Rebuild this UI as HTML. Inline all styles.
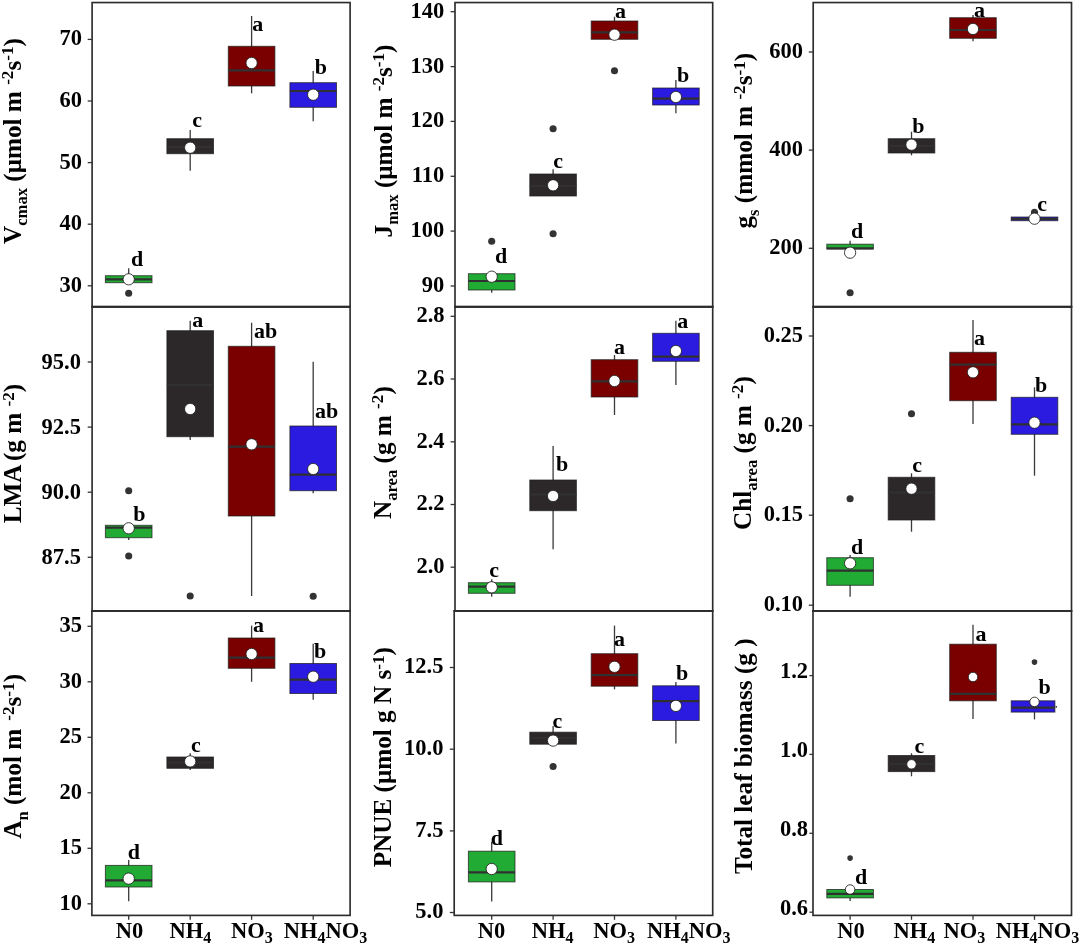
<!DOCTYPE html>
<html><head><meta charset="utf-8"><title>Box plots</title>
<style>html,body{margin:0;padding:0;background:#fff;}body{width:1080px;height:945px;overflow:hidden;font-family:"Liberation Serif",serif;}svg{display:block;filter:blur(0.45px);}</style></head>
<body>
<svg width="1080" height="945" viewBox="0 0 1080 945" font-family="Liberation Serif, serif" font-weight="bold" fill="#000">
<rect width="1080" height="945" fill="#fff"/>
<g>
<line x1="128.7" x2="128.7" y1="268.3" y2="282.7" stroke="#3a3a3a" stroke-width="1.3"/>
<circle cx="128.7" cy="293.3" r="3.55" fill="#333"/>
<rect x="105.4" y="275.7" width="46.6" height="7.0" fill="#21ab35" stroke="#1c1c1c" stroke-opacity="0.72" stroke-width="1"/>
<line x1="105.4" x2="152.0" y1="279.3" y2="279.3" stroke="#303030" stroke-width="2.2"/>
<circle cx="128.7" cy="279.3" r="5.65" fill="#fff" stroke="#1e1e1e" stroke-width="0.85"/>
<text x="131.0" y="266.0" font-size="22">d</text>
<line x1="190.2" x2="190.2" y1="130.0" y2="170.7" stroke="#3a3a3a" stroke-width="1.3"/>
<rect x="166.9" y="138.7" width="46.6" height="15.0" fill="#2c2829" stroke="#1c1c1c" stroke-opacity="0.72" stroke-width="1"/>
<line x1="166.9" x2="213.5" y1="147.0" y2="147.0" stroke="#303030" stroke-width="2.2"/>
<circle cx="190.2" cy="147.7" r="5.65" fill="#fff" stroke="#1e1e1e" stroke-width="0.85"/>
<text x="192.3" y="127.3" font-size="22">c</text>
<line x1="251.6" x2="251.6" y1="16.0" y2="93.3" stroke="#3a3a3a" stroke-width="1.3"/>
<rect x="228.3" y="46.3" width="46.6" height="39.7" fill="#7a0000" stroke="#1c1c1c" stroke-opacity="0.72" stroke-width="1"/>
<line x1="228.3" x2="274.9" y1="70.3" y2="70.3" stroke="#303030" stroke-width="2.2"/>
<circle cx="251.6" cy="63.0" r="5.65" fill="#fff" stroke="#1e1e1e" stroke-width="0.85"/>
<text x="252.3" y="31.0" font-size="22">a</text>
<line x1="313.2" x2="313.2" y1="71.0" y2="121.3" stroke="#3a3a3a" stroke-width="1.3"/>
<rect x="289.9" y="82.7" width="46.6" height="24.6" fill="#2b1be0" stroke="#1c1c1c" stroke-opacity="0.72" stroke-width="1"/>
<line x1="289.9" x2="336.5" y1="91.0" y2="91.0" stroke="#303030" stroke-width="2.2"/>
<circle cx="313.2" cy="94.7" r="5.65" fill="#fff" stroke="#1e1e1e" stroke-width="0.85"/>
<text x="314.7" y="74.0" font-size="22">b</text>
<rect x="92.1" y="2.55" width="258.0" height="304.2" fill="none" stroke="#2c2c2c" stroke-width="1.65"/>
<line x1="87.7" x2="92.1" y1="39.4" y2="39.4" stroke="#333333" stroke-width="1.3"/>
<text x="82.0" y="45.3" font-size="22.5" text-anchor="end">70</text>
<line x1="87.7" x2="92.1" y1="101.0" y2="101.0" stroke="#333333" stroke-width="1.3"/>
<text x="82.0" y="106.9" font-size="22.5" text-anchor="end">60</text>
<line x1="87.7" x2="92.1" y1="162.6" y2="162.6" stroke="#333333" stroke-width="1.3"/>
<text x="82.0" y="168.5" font-size="22.5" text-anchor="end">50</text>
<line x1="87.7" x2="92.1" y1="224.2" y2="224.2" stroke="#333333" stroke-width="1.3"/>
<text x="82.0" y="230.1" font-size="22.5" text-anchor="end">40</text>
<line x1="87.7" x2="92.1" y1="285.8" y2="285.8" stroke="#333333" stroke-width="1.3"/>
<text x="82.0" y="291.7" font-size="22.5" text-anchor="end">30</text>
<text transform="translate(20.6,244.0) rotate(-90)" font-size="25.2" xml:space="preserve">V<tspan dy="6.68" font-size="16.63">cmax</tspan><tspan dy="-6.68" font-size="16.63">&#8203;</tspan> (μmol m <tspan dy="-7.56" font-size="17.14">-2</tspan><tspan dy="7.56" font-size="17.14">&#8203;</tspan>s<tspan dy="-7.56" font-size="17.14">-1</tspan><tspan dy="7.56" font-size="17.14">&#8203;</tspan>)</text>
</g>
<g>
<line x1="491.7" x2="491.7" y1="273.7" y2="292.7" stroke="#3a3a3a" stroke-width="1.3"/>
<circle cx="491.7" cy="241.3" r="3.55" fill="#333"/>
<rect x="468.4" y="273.7" width="46.6" height="16.3" fill="#21ab35" stroke="#1c1c1c" stroke-opacity="0.72" stroke-width="1"/>
<line x1="468.4" x2="515.0" y1="281.0" y2="281.0" stroke="#303030" stroke-width="2.2"/>
<circle cx="491.7" cy="276.7" r="5.65" fill="#fff" stroke="#1e1e1e" stroke-width="0.85"/>
<text x="495.0" y="263.3" font-size="22">d</text>
<line x1="553.1" x2="553.1" y1="169.3" y2="196.0" stroke="#3a3a3a" stroke-width="1.3"/>
<circle cx="553.1" cy="128.7" r="3.55" fill="#333"/>
<circle cx="553.1" cy="233.7" r="3.55" fill="#333"/>
<rect x="529.8" y="174.0" width="46.6" height="22.0" fill="#2c2829" stroke="#1c1c1c" stroke-opacity="0.72" stroke-width="1"/>
<line x1="529.8" x2="576.4" y1="186.0" y2="186.0" stroke="#303030" stroke-width="2.2"/>
<circle cx="553.1" cy="185.3" r="5.65" fill="#fff" stroke="#1e1e1e" stroke-width="0.85"/>
<text x="553.3" y="168.3" font-size="22">c</text>
<line x1="614.5" x2="614.5" y1="16.7" y2="39.3" stroke="#3a3a3a" stroke-width="1.3"/>
<circle cx="614.5" cy="70.7" r="3.55" fill="#333"/>
<rect x="591.2" y="21.0" width="46.6" height="18.3" fill="#7a0000" stroke="#1c1c1c" stroke-opacity="0.72" stroke-width="1"/>
<line x1="591.2" x2="637.8" y1="32.3" y2="32.3" stroke="#303030" stroke-width="2.2"/>
<circle cx="614.5" cy="34.7" r="5.65" fill="#fff" stroke="#1e1e1e" stroke-width="0.85"/>
<text x="615.0" y="18.3" font-size="22">a</text>
<line x1="675.9" x2="675.9" y1="80.0" y2="113.3" stroke="#3a3a3a" stroke-width="1.3"/>
<rect x="652.6" y="88.0" width="46.6" height="17.0" fill="#2b1be0" stroke="#1c1c1c" stroke-opacity="0.72" stroke-width="1"/>
<line x1="652.6" x2="699.2" y1="98.7" y2="98.7" stroke="#303030" stroke-width="2.2"/>
<circle cx="675.9" cy="97.0" r="5.65" fill="#fff" stroke="#1e1e1e" stroke-width="0.85"/>
<text x="677.0" y="82.3" font-size="22">b</text>
<rect x="455.0" y="2.55" width="257.7" height="304.2" fill="none" stroke="#2c2c2c" stroke-width="1.65"/>
<line x1="450.6" x2="455.0" y1="11.7" y2="11.7" stroke="#333333" stroke-width="1.3"/>
<text x="444.2" y="17.6" font-size="22.5" text-anchor="end">140</text>
<line x1="450.6" x2="455.0" y1="66.6" y2="66.6" stroke="#333333" stroke-width="1.3"/>
<text x="444.2" y="72.5" font-size="22.5" text-anchor="end">130</text>
<line x1="450.6" x2="455.0" y1="121.4" y2="121.4" stroke="#333333" stroke-width="1.3"/>
<text x="444.2" y="127.3" font-size="22.5" text-anchor="end">120</text>
<line x1="450.6" x2="455.0" y1="176.3" y2="176.3" stroke="#333333" stroke-width="1.3"/>
<text x="444.2" y="182.2" font-size="22.5" text-anchor="end">110</text>
<line x1="450.6" x2="455.0" y1="231.1" y2="231.1" stroke="#333333" stroke-width="1.3"/>
<text x="444.2" y="237.0" font-size="22.5" text-anchor="end">100</text>
<line x1="450.6" x2="455.0" y1="286.0" y2="286.0" stroke="#333333" stroke-width="1.3"/>
<text x="444.2" y="291.9" font-size="22.5" text-anchor="end">90</text>
<text transform="translate(391.7,237.4) rotate(-90)" font-size="25.2" xml:space="preserve">J<tspan dy="6.68" font-size="16.63">max</tspan><tspan dy="-6.68" font-size="16.63">&#8203;</tspan> (μmol m <tspan dy="-7.56" font-size="17.14">-2</tspan><tspan dy="7.56" font-size="17.14">&#8203;</tspan>s<tspan dy="-7.56" font-size="17.14">-1</tspan><tspan dy="7.56" font-size="17.14">&#8203;</tspan>)</text>
</g>
<g>
<line x1="850.1" x2="850.1" y1="240.7" y2="248.7" stroke="#3a3a3a" stroke-width="1.3"/>
<circle cx="850.1" cy="292.7" r="3.55" fill="#333"/>
<rect x="826.8" y="244.2" width="46.6" height="4.7" fill="#21ab35" stroke="#1c1c1c" stroke-opacity="0.72" stroke-width="1"/>
<line x1="826.8" x2="873.4" y1="248.3" y2="248.3" stroke="#303030" stroke-width="2.2"/>
<circle cx="850.1" cy="252.7" r="5.65" fill="#fff" stroke="#1e1e1e" stroke-width="0.85"/>
<text x="851.0" y="238.3" font-size="22">d</text>
<line x1="911.5" x2="911.5" y1="131.7" y2="155.3" stroke="#3a3a3a" stroke-width="1.3"/>
<rect x="888.2" y="138.7" width="46.6" height="14.3" fill="#2c2829" stroke="#1c1c1c" stroke-opacity="0.72" stroke-width="1"/>
<line x1="888.2" x2="934.8" y1="146.0" y2="146.0" stroke="#303030" stroke-width="2.2"/>
<circle cx="911.5" cy="144.7" r="5.65" fill="#fff" stroke="#1e1e1e" stroke-width="0.85"/>
<text x="912.3" y="133.3" font-size="22">b</text>
<line x1="973.0" x2="973.0" y1="15.0" y2="41.3" stroke="#3a3a3a" stroke-width="1.3"/>
<rect x="949.7" y="17.7" width="46.6" height="20.6" fill="#7a0000" stroke="#1c1c1c" stroke-opacity="0.72" stroke-width="1"/>
<line x1="949.7" x2="996.3" y1="30.0" y2="30.0" stroke="#303030" stroke-width="2.2"/>
<circle cx="973.0" cy="29.0" r="5.65" fill="#fff" stroke="#1e1e1e" stroke-width="0.85"/>
<text x="974.0" y="16.7" font-size="22">a</text>
<line x1="1034.5" x2="1034.5" y1="217.0" y2="220.7" stroke="#3a3a3a" stroke-width="1.3"/>
<circle cx="1034.5" cy="212.4" r="3.55" fill="#333"/>
<rect x="1011.2" y="217.0" width="46.6" height="3.7" fill="#2b1be0" stroke="#1c1c1c" stroke-opacity="0.72" stroke-width="1"/>
<line x1="1011.2" x2="1057.8" y1="218.8" y2="218.8" stroke="#303030" stroke-width="2.2"/>
<circle cx="1034.5" cy="218.7" r="5.65" fill="#fff" stroke="#1e1e1e" stroke-width="0.85"/>
<text x="1037.3" y="210.7" font-size="22">c</text>
<rect x="813.2" y="2.55" width="258.3" height="304.2" fill="none" stroke="#2c2c2c" stroke-width="1.65"/>
<line x1="808.8" x2="813.2" y1="52.0" y2="52.0" stroke="#333333" stroke-width="1.3"/>
<text x="803.1" y="57.9" font-size="22.5" text-anchor="end">600</text>
<line x1="808.8" x2="813.2" y1="150.1" y2="150.1" stroke="#333333" stroke-width="1.3"/>
<text x="803.1" y="156.0" font-size="22.5" text-anchor="end">400</text>
<line x1="808.8" x2="813.2" y1="248.3" y2="248.3" stroke="#333333" stroke-width="1.3"/>
<text x="803.1" y="254.2" font-size="22.5" text-anchor="end">200</text>
<text transform="translate(752.3,228.5) rotate(-90)" font-size="25.2" xml:space="preserve">g<tspan dy="6.68" font-size="16.63">s</tspan><tspan dy="-6.68" font-size="16.63">&#8203;</tspan> (mmol m <tspan dy="-7.56" font-size="17.14">-2</tspan><tspan dy="7.56" font-size="17.14">&#8203;</tspan>s<tspan dy="-7.56" font-size="17.14">-1</tspan><tspan dy="7.56" font-size="17.14">&#8203;</tspan>)</text>
</g>
<g>
<line x1="128.7" x2="128.7" y1="523.3" y2="540.0" stroke="#3a3a3a" stroke-width="1.3"/>
<circle cx="128.7" cy="490.7" r="3.55" fill="#333"/>
<circle cx="128.7" cy="556.0" r="3.55" fill="#333"/>
<rect x="105.4" y="525.3" width="46.6" height="12.4" fill="#21ab35" stroke="#1c1c1c" stroke-opacity="0.72" stroke-width="1"/>
<line x1="105.4" x2="152.0" y1="527.7" y2="527.7" stroke="#303030" stroke-width="2.2"/>
<circle cx="128.7" cy="528.3" r="5.65" fill="#fff" stroke="#1e1e1e" stroke-width="0.85"/>
<text x="133.3" y="520.7" font-size="22">b</text>
<line x1="190.2" x2="190.2" y1="320.7" y2="440.0" stroke="#3a3a3a" stroke-width="1.3"/>
<circle cx="190.2" cy="596.0" r="3.55" fill="#333"/>
<rect x="166.9" y="330.7" width="46.6" height="106.0" fill="#2c2829" stroke="#1c1c1c" stroke-opacity="0.72" stroke-width="1"/>
<line x1="166.9" x2="213.5" y1="385.0" y2="385.0" stroke="#303030" stroke-width="2.2"/>
<circle cx="190.2" cy="409.0" r="5.65" fill="#fff" stroke="#1e1e1e" stroke-width="0.85"/>
<text x="192.3" y="327.3" font-size="22">a</text>
<line x1="251.6" x2="251.6" y1="322.7" y2="596.0" stroke="#3a3a3a" stroke-width="1.3"/>
<rect x="228.3" y="346.3" width="46.6" height="169.7" fill="#7a0000" stroke="#1c1c1c" stroke-opacity="0.72" stroke-width="1"/>
<line x1="228.3" x2="274.9" y1="446.7" y2="446.7" stroke="#303030" stroke-width="2.2"/>
<circle cx="251.6" cy="444.3" r="5.65" fill="#fff" stroke="#1e1e1e" stroke-width="0.85"/>
<text x="254.0" y="338.3" font-size="22">ab</text>
<line x1="313.2" x2="313.2" y1="361.7" y2="493.3" stroke="#3a3a3a" stroke-width="1.3"/>
<circle cx="313.2" cy="596.3" r="3.55" fill="#333"/>
<rect x="289.9" y="426.0" width="46.6" height="64.7" fill="#2b1be0" stroke="#1c1c1c" stroke-opacity="0.72" stroke-width="1"/>
<line x1="289.9" x2="336.5" y1="474.7" y2="474.7" stroke="#303030" stroke-width="2.2"/>
<circle cx="313.2" cy="469.0" r="5.65" fill="#fff" stroke="#1e1e1e" stroke-width="0.85"/>
<text x="315.0" y="418.3" font-size="22">ab</text>
<rect x="92.1" y="306.8" width="258.0" height="304.1" fill="none" stroke="#2c2c2c" stroke-width="1.65"/>
<line x1="91.4" x2="350.8" y1="306.8" y2="306.8" stroke="#2c2c2c" stroke-width="1.9"/>
<line x1="87.7" x2="92.1" y1="362.0" y2="362.0" stroke="#333333" stroke-width="1.3"/>
<text x="80.9" y="369.1" font-size="22.5" text-anchor="end">95.0</text>
<line x1="87.7" x2="92.1" y1="427.1" y2="427.1" stroke="#333333" stroke-width="1.3"/>
<text x="80.9" y="434.2" font-size="22.5" text-anchor="end">92.5</text>
<line x1="87.7" x2="92.1" y1="492.2" y2="492.2" stroke="#333333" stroke-width="1.3"/>
<text x="80.9" y="499.3" font-size="22.5" text-anchor="end">90.0</text>
<line x1="87.7" x2="92.1" y1="557.3" y2="557.3" stroke="#333333" stroke-width="1.3"/>
<text x="80.9" y="564.4" font-size="22.5" text-anchor="end">87.5</text>
<text transform="translate(21.4,523.3) rotate(-90)" font-size="25.2" xml:space="preserve">LMA<tspan dx="3.5">(</tspan>g m <tspan dy="-7.56" font-size="17.14">-2</tspan><tspan dy="7.56" font-size="17.14">&#8203;</tspan>)</text>
</g>
<g>
<line x1="491.7" x2="491.7" y1="579.3" y2="596.7" stroke="#3a3a3a" stroke-width="1.3"/>
<rect x="468.4" y="582.7" width="46.6" height="10.6" fill="#21ab35" stroke="#1c1c1c" stroke-opacity="0.72" stroke-width="1"/>
<line x1="468.4" x2="515.0" y1="586.7" y2="586.7" stroke="#303030" stroke-width="2.2"/>
<circle cx="491.7" cy="587.3" r="5.65" fill="#fff" stroke="#1e1e1e" stroke-width="0.85"/>
<text x="489.3" y="576.7" font-size="22">c</text>
<line x1="553.1" x2="553.1" y1="446.0" y2="549.3" stroke="#3a3a3a" stroke-width="1.3"/>
<rect x="529.8" y="480.0" width="46.6" height="30.7" fill="#2c2829" stroke="#1c1c1c" stroke-opacity="0.72" stroke-width="1"/>
<line x1="529.8" x2="576.4" y1="494.3" y2="494.3" stroke="#303030" stroke-width="2.2"/>
<circle cx="553.1" cy="496.0" r="5.65" fill="#fff" stroke="#1e1e1e" stroke-width="0.85"/>
<text x="556.0" y="471.0" font-size="22">b</text>
<line x1="614.5" x2="614.5" y1="355.0" y2="415.0" stroke="#3a3a3a" stroke-width="1.3"/>
<rect x="591.2" y="359.7" width="46.6" height="37.3" fill="#7a0000" stroke="#1c1c1c" stroke-opacity="0.72" stroke-width="1"/>
<line x1="591.2" x2="637.8" y1="381.3" y2="381.3" stroke="#303030" stroke-width="2.2"/>
<circle cx="614.5" cy="381.0" r="5.65" fill="#fff" stroke="#1e1e1e" stroke-width="0.85"/>
<text x="614.0" y="354.3" font-size="22">a</text>
<line x1="675.9" x2="675.9" y1="320.7" y2="385.0" stroke="#3a3a3a" stroke-width="1.3"/>
<rect x="652.6" y="333.3" width="46.6" height="28.0" fill="#2b1be0" stroke="#1c1c1c" stroke-opacity="0.72" stroke-width="1"/>
<line x1="652.6" x2="699.2" y1="356.7" y2="356.7" stroke="#303030" stroke-width="2.2"/>
<circle cx="675.9" cy="351.0" r="5.65" fill="#fff" stroke="#1e1e1e" stroke-width="0.85"/>
<text x="677.3" y="328.3" font-size="22">a</text>
<rect x="455.0" y="306.8" width="257.7" height="304.1" fill="none" stroke="#2c2c2c" stroke-width="1.65"/>
<line x1="454.3" x2="713.4" y1="306.8" y2="306.8" stroke="#2c2c2c" stroke-width="1.9"/>
<line x1="450.6" x2="455.0" y1="316.3" y2="316.3" stroke="#333333" stroke-width="1.3"/>
<text x="444.6" y="322.2" font-size="22.5" text-anchor="end">2.8</text>
<line x1="450.6" x2="455.0" y1="379.0" y2="379.0" stroke="#333333" stroke-width="1.3"/>
<text x="444.6" y="384.9" font-size="22.5" text-anchor="end">2.6</text>
<line x1="450.6" x2="455.0" y1="441.8" y2="441.8" stroke="#333333" stroke-width="1.3"/>
<text x="444.6" y="447.7" font-size="22.5" text-anchor="end">2.4</text>
<line x1="450.6" x2="455.0" y1="504.5" y2="504.5" stroke="#333333" stroke-width="1.3"/>
<text x="444.6" y="510.4" font-size="22.5" text-anchor="end">2.2</text>
<line x1="450.6" x2="455.0" y1="567.2" y2="567.2" stroke="#333333" stroke-width="1.3"/>
<text x="444.6" y="573.1" font-size="22.5" text-anchor="end">2.0</text>
<text transform="translate(390.5,519.0) rotate(-90)" font-size="25.2" xml:space="preserve">N<tspan dy="6.68" font-size="16.63">area</tspan><tspan dy="-6.68" font-size="16.63">&#8203;</tspan> (g m <tspan dy="-7.56" font-size="17.14">-2</tspan><tspan dy="7.56" font-size="17.14">&#8203;</tspan>)</text>
</g>
<g>
<line x1="850.1" x2="850.1" y1="555.0" y2="596.7" stroke="#3a3a3a" stroke-width="1.3"/>
<circle cx="850.1" cy="498.7" r="3.55" fill="#333"/>
<rect x="826.8" y="557.7" width="46.6" height="27.6" fill="#21ab35" stroke="#1c1c1c" stroke-opacity="0.72" stroke-width="1"/>
<line x1="826.8" x2="873.4" y1="570.7" y2="570.7" stroke="#303030" stroke-width="2.2"/>
<circle cx="850.1" cy="563.3" r="5.65" fill="#fff" stroke="#1e1e1e" stroke-width="0.85"/>
<text x="851.0" y="554.0" font-size="22">d</text>
<line x1="911.5" x2="911.5" y1="473.3" y2="531.7" stroke="#3a3a3a" stroke-width="1.3"/>
<circle cx="911.5" cy="413.7" r="3.55" fill="#333"/>
<rect x="888.2" y="477.3" width="46.6" height="42.7" fill="#2c2829" stroke="#1c1c1c" stroke-opacity="0.72" stroke-width="1"/>
<line x1="888.2" x2="934.8" y1="492.7" y2="492.7" stroke="#303030" stroke-width="2.2"/>
<circle cx="911.5" cy="488.7" r="5.65" fill="#fff" stroke="#1e1e1e" stroke-width="0.85"/>
<text x="912.3" y="472.3" font-size="22">c</text>
<line x1="973.0" x2="973.0" y1="320.0" y2="424.0" stroke="#3a3a3a" stroke-width="1.3"/>
<rect x="949.7" y="352.3" width="46.6" height="48.4" fill="#7a0000" stroke="#1c1c1c" stroke-opacity="0.72" stroke-width="1"/>
<line x1="949.7" x2="996.3" y1="364.7" y2="364.7" stroke="#303030" stroke-width="2.2"/>
<circle cx="973.0" cy="372.3" r="5.65" fill="#fff" stroke="#1e1e1e" stroke-width="0.85"/>
<text x="974.0" y="345.0" font-size="22">a</text>
<line x1="1034.5" x2="1034.5" y1="387.3" y2="475.7" stroke="#3a3a3a" stroke-width="1.3"/>
<rect x="1011.2" y="397.3" width="46.6" height="37.0" fill="#2b1be0" stroke="#1c1c1c" stroke-opacity="0.72" stroke-width="1"/>
<line x1="1011.2" x2="1057.8" y1="424.3" y2="424.3" stroke="#303030" stroke-width="2.2"/>
<circle cx="1034.5" cy="422.7" r="5.65" fill="#fff" stroke="#1e1e1e" stroke-width="0.85"/>
<text x="1035.0" y="391.7" font-size="22">b</text>
<rect x="813.2" y="306.8" width="258.3" height="304.1" fill="none" stroke="#2c2c2c" stroke-width="1.65"/>
<line x1="812.5" x2="1072.2" y1="306.8" y2="306.8" stroke="#2c2c2c" stroke-width="1.9"/>
<line x1="808.8" x2="813.2" y1="336.0" y2="336.0" stroke="#333333" stroke-width="1.3"/>
<text x="803.0" y="341.9" font-size="22.5" text-anchor="end">0.25</text>
<line x1="808.8" x2="813.2" y1="425.6" y2="425.6" stroke="#333333" stroke-width="1.3"/>
<text x="803.0" y="431.5" font-size="22.5" text-anchor="end">0.20</text>
<line x1="808.8" x2="813.2" y1="515.2" y2="515.2" stroke="#333333" stroke-width="1.3"/>
<text x="803.0" y="521.1" font-size="22.5" text-anchor="end">0.15</text>
<line x1="808.8" x2="813.2" y1="605.2" y2="605.2" stroke="#333333" stroke-width="1.3"/>
<text x="803.0" y="611.1" font-size="22.5" text-anchor="end">0.10</text>
<text transform="translate(750.5,530.0) rotate(-90)" font-size="25.2" xml:space="preserve">Chl<tspan dy="6.68" font-size="16.63">area</tspan><tspan dy="-6.68" font-size="16.63">&#8203;</tspan> (g m <tspan dy="-7.56" font-size="17.14">-2</tspan><tspan dy="7.56" font-size="17.14">&#8203;</tspan>)</text>
</g>
<g>
<line x1="128.7" x2="128.7" y1="860.0" y2="901.2" stroke="#3a3a3a" stroke-width="1.3"/>
<rect x="105.4" y="865.4" width="46.6" height="21.6" fill="#21ab35" stroke="#1c1c1c" stroke-opacity="0.72" stroke-width="1"/>
<line x1="105.4" x2="152.0" y1="880.4" y2="880.4" stroke="#303030" stroke-width="2.2"/>
<circle cx="128.7" cy="878.6" r="5.65" fill="#fff" stroke="#1e1e1e" stroke-width="0.85"/>
<text x="127.7" y="858.5" font-size="22">d</text>
<line x1="190.2" x2="190.2" y1="753.3" y2="770.0" stroke="#3a3a3a" stroke-width="1.3"/>
<rect x="166.9" y="757.0" width="46.6" height="11.3" fill="#2c2829" stroke="#1c1c1c" stroke-opacity="0.72" stroke-width="1"/>
<line x1="166.9" x2="213.5" y1="762.5" y2="762.5" stroke="#303030" stroke-width="2.2"/>
<circle cx="190.2" cy="761.4" r="5.65" fill="#fff" stroke="#1e1e1e" stroke-width="0.85"/>
<text x="191.0" y="751.5" font-size="22">c</text>
<line x1="251.6" x2="251.6" y1="625.6" y2="681.8" stroke="#3a3a3a" stroke-width="1.3"/>
<rect x="228.3" y="638.0" width="46.6" height="30.3" fill="#7a0000" stroke="#1c1c1c" stroke-opacity="0.72" stroke-width="1"/>
<line x1="228.3" x2="274.9" y1="657.7" y2="657.7" stroke="#303030" stroke-width="2.2"/>
<circle cx="251.6" cy="654.0" r="5.65" fill="#fff" stroke="#1e1e1e" stroke-width="0.85"/>
<text x="253.0" y="632.0" font-size="22">a</text>
<line x1="313.2" x2="313.2" y1="643.8" y2="699.7" stroke="#3a3a3a" stroke-width="1.3"/>
<rect x="289.9" y="663.5" width="46.6" height="30.0" fill="#2b1be0" stroke="#1c1c1c" stroke-opacity="0.72" stroke-width="1"/>
<line x1="289.9" x2="336.5" y1="679.6" y2="679.6" stroke="#303030" stroke-width="2.2"/>
<circle cx="313.2" cy="676.7" r="5.65" fill="#fff" stroke="#1e1e1e" stroke-width="0.85"/>
<text x="314.0" y="657.7" font-size="22">b</text>
<rect x="91.9" y="610.9" width="258.2" height="304.5" fill="none" stroke="#2c2c2c" stroke-width="1.65"/>
<line x1="91.2" x2="350.8" y1="610.9" y2="610.9" stroke="#2c2c2c" stroke-width="1.9"/>
<line x1="87.5" x2="91.9" y1="626.3" y2="626.3" stroke="#333333" stroke-width="1.3"/>
<text x="82.0" y="632.2" font-size="22.5" text-anchor="end">35</text>
<line x1="87.5" x2="91.9" y1="681.8" y2="681.8" stroke="#333333" stroke-width="1.3"/>
<text x="82.0" y="687.7" font-size="22.5" text-anchor="end">30</text>
<line x1="87.5" x2="91.9" y1="737.3" y2="737.3" stroke="#333333" stroke-width="1.3"/>
<text x="82.0" y="743.2" font-size="22.5" text-anchor="end">25</text>
<line x1="87.5" x2="91.9" y1="792.8" y2="792.8" stroke="#333333" stroke-width="1.3"/>
<text x="82.0" y="798.7" font-size="22.5" text-anchor="end">20</text>
<line x1="87.5" x2="91.9" y1="848.3" y2="848.3" stroke="#333333" stroke-width="1.3"/>
<text x="82.0" y="854.2" font-size="22.5" text-anchor="end">15</text>
<line x1="87.5" x2="91.9" y1="903.8" y2="903.8" stroke="#333333" stroke-width="1.3"/>
<text x="82.0" y="909.7" font-size="22.5" text-anchor="end">10</text>
<text transform="translate(21.4,838.8) rotate(-90)" font-size="25.2" xml:space="preserve">A<tspan dy="6.68" font-size="16.63">n</tspan><tspan dy="-6.68" font-size="16.63">&#8203;</tspan> (mol m<tspan dx="1.8"> </tspan><tspan dy="-7.56" font-size="17.14">-2</tspan><tspan dy="7.56" font-size="17.14">&#8203;</tspan>s<tspan dy="-7.56" font-size="17.14">-1</tspan><tspan dy="7.56" font-size="17.14">&#8203;</tspan>)</text>
<line x1="128.7" x2="128.7" y1="915.4" y2="919.8" stroke="#333333" stroke-width="1.3"/>
<text x="115.8" y="937.6" font-size="22.5">N0</text>
<line x1="190.2" x2="190.2" y1="915.4" y2="919.8" stroke="#333333" stroke-width="1.3"/>
<text x="169.4" y="937.6" font-size="22.5">NH<tspan dy="5.6" font-size="16">4</tspan><tspan dy="-5.6" font-size="16">&#8203;</tspan></text>
<line x1="251.6" x2="251.6" y1="915.4" y2="919.8" stroke="#333333" stroke-width="1.3"/>
<text x="231.1" y="937.6" font-size="22.5">NO<tspan dy="5.6" font-size="16">3</tspan><tspan dy="-5.6" font-size="16">&#8203;</tspan></text>
<line x1="313.2" x2="313.2" y1="915.4" y2="919.8" stroke="#333333" stroke-width="1.3"/>
<text x="283.8" y="937.6" font-size="22.5">NH<tspan dy="5.6" font-size="16">4</tspan><tspan dy="-5.6" font-size="16">&#8203;</tspan>NO<tspan dy="5.6" font-size="16">3</tspan><tspan dy="-5.6" font-size="16">&#8203;</tspan></text>
</g>
<g>
<line x1="491.7" x2="491.7" y1="841.7" y2="901.6" stroke="#3a3a3a" stroke-width="1.3"/>
<rect x="468.4" y="851.2" width="46.6" height="30.7" fill="#21ab35" stroke="#1c1c1c" stroke-opacity="0.72" stroke-width="1"/>
<line x1="468.4" x2="515.0" y1="872.4" y2="872.4" stroke="#303030" stroke-width="2.2"/>
<circle cx="491.7" cy="869.0" r="5.65" fill="#fff" stroke="#1e1e1e" stroke-width="0.85"/>
<text x="490.7" y="845.3" font-size="22">d</text>
<line x1="553.1" x2="553.1" y1="726.0" y2="744.2" stroke="#3a3a3a" stroke-width="1.3"/>
<circle cx="553.1" cy="766.5" r="3.55" fill="#333"/>
<rect x="529.8" y="732.2" width="46.6" height="12.0" fill="#2c2829" stroke="#1c1c1c" stroke-opacity="0.72" stroke-width="1"/>
<line x1="529.8" x2="576.4" y1="738.0" y2="738.0" stroke="#303030" stroke-width="2.2"/>
<circle cx="553.1" cy="740.6" r="5.65" fill="#fff" stroke="#1e1e1e" stroke-width="0.85"/>
<text x="552.4" y="727.8" font-size="22">c</text>
<line x1="614.5" x2="614.5" y1="625.6" y2="689.4" stroke="#3a3a3a" stroke-width="1.3"/>
<rect x="591.2" y="653.7" width="46.6" height="32.5" fill="#7a0000" stroke="#1c1c1c" stroke-opacity="0.72" stroke-width="1"/>
<line x1="591.2" x2="637.8" y1="675.2" y2="675.2" stroke="#303030" stroke-width="2.2"/>
<circle cx="614.5" cy="666.8" r="5.65" fill="#fff" stroke="#1e1e1e" stroke-width="0.85"/>
<text x="614.0" y="646.4" font-size="22">a</text>
<line x1="675.9" x2="675.9" y1="682.0" y2="743.5" stroke="#3a3a3a" stroke-width="1.3"/>
<rect x="652.6" y="685.8" width="46.6" height="34.7" fill="#2b1be0" stroke="#1c1c1c" stroke-opacity="0.72" stroke-width="1"/>
<line x1="652.6" x2="699.2" y1="701.1" y2="701.1" stroke="#303030" stroke-width="2.2"/>
<circle cx="675.9" cy="705.9" r="5.65" fill="#fff" stroke="#1e1e1e" stroke-width="0.85"/>
<text x="676.0" y="679.6" font-size="22">b</text>
<rect x="454.2" y="610.9" width="258.5" height="304.5" fill="none" stroke="#2c2c2c" stroke-width="1.65"/>
<line x1="453.5" x2="713.4" y1="610.9" y2="610.9" stroke="#2c2c2c" stroke-width="1.9"/>
<line x1="449.8" x2="454.2" y1="667.5" y2="667.5" stroke="#333333" stroke-width="1.3"/>
<text x="443.4" y="673.4" font-size="22.5" text-anchor="end">12.5</text>
<line x1="449.8" x2="454.2" y1="749.2" y2="749.2" stroke="#333333" stroke-width="1.3"/>
<text x="443.4" y="755.1" font-size="22.5" text-anchor="end">10.0</text>
<line x1="449.8" x2="454.2" y1="830.9" y2="830.9" stroke="#333333" stroke-width="1.3"/>
<text x="443.4" y="836.8" font-size="22.5" text-anchor="end">7.5</text>
<line x1="449.8" x2="454.2" y1="912.5" y2="912.5" stroke="#333333" stroke-width="1.3"/>
<text x="443.4" y="918.4" font-size="22.5" text-anchor="end">5.0</text>
<text transform="translate(391.3,867.3) rotate(-90)" font-size="25.2" xml:space="preserve">PNUE (μmol g N s<tspan dy="-7.56" font-size="17.14">-1</tspan><tspan dy="7.56" font-size="17.14">&#8203;</tspan>)</text>
<line x1="491.7" x2="491.7" y1="915.4" y2="919.8" stroke="#333333" stroke-width="1.3"/>
<text x="477.8" y="937.6" font-size="22.5">N0</text>
<line x1="553.1" x2="553.1" y1="915.4" y2="919.8" stroke="#333333" stroke-width="1.3"/>
<text x="531.7" y="937.6" font-size="22.5">NH<tspan dy="5.6" font-size="16">4</tspan><tspan dy="-5.6" font-size="16">&#8203;</tspan></text>
<line x1="614.5" x2="614.5" y1="915.4" y2="919.8" stroke="#333333" stroke-width="1.3"/>
<text x="593.2" y="937.6" font-size="22.5">NO<tspan dy="5.6" font-size="16">3</tspan><tspan dy="-5.6" font-size="16">&#8203;</tspan></text>
<line x1="675.9" x2="675.9" y1="915.4" y2="919.8" stroke="#333333" stroke-width="1.3"/>
<text x="646.9" y="937.6" font-size="22.5">NH<tspan dy="5.6" font-size="16">4</tspan><tspan dy="-5.6" font-size="16">&#8203;</tspan>NO<tspan dy="5.6" font-size="16">3</tspan><tspan dy="-5.6" font-size="16">&#8203;</tspan></text>
</g>
<g>
<line x1="850.1" x2="850.1" y1="889.5" y2="901.0" stroke="#3a3a3a" stroke-width="1.3"/>
<circle cx="850.1" cy="858.1" r="2.8" fill="#333"/>
<rect x="826.8" y="889.5" width="46.6" height="8.4" fill="#21ab35" stroke="#1c1c1c" stroke-opacity="0.72" stroke-width="1"/>
<line x1="826.8" x2="873.4" y1="893.9" y2="893.9" stroke="#303030" stroke-width="2.2"/>
<circle cx="850.1" cy="889.5" r="4.75" fill="#fff" stroke="#1e1e1e" stroke-width="0.85"/>
<text x="855.0" y="884.0" font-size="22">d</text>
<line x1="911.5" x2="911.5" y1="753.3" y2="776.3" stroke="#3a3a3a" stroke-width="1.3"/>
<rect x="888.2" y="755.5" width="46.6" height="16.1" fill="#2c2829" stroke="#1c1c1c" stroke-opacity="0.72" stroke-width="1"/>
<line x1="888.2" x2="934.8" y1="764.0" y2="764.0" stroke="#303030" stroke-width="2.2"/>
<circle cx="911.5" cy="764.3" r="4.75" fill="#fff" stroke="#1e1e1e" stroke-width="0.85"/>
<text x="914.6" y="753.3" font-size="22">c</text>
<line x1="973.0" x2="973.0" y1="624.8" y2="719.0" stroke="#3a3a3a" stroke-width="1.3"/>
<rect x="949.7" y="644.2" width="46.6" height="56.6" fill="#7a0000" stroke="#1c1c1c" stroke-opacity="0.72" stroke-width="1"/>
<line x1="949.7" x2="996.3" y1="693.8" y2="693.8" stroke="#303030" stroke-width="2.2"/>
<circle cx="973.0" cy="677.0" r="4.75" fill="#fff" stroke="#1e1e1e" stroke-width="0.85"/>
<text x="975.6" y="640.9" font-size="22">a</text>
<line x1="1034.5" x2="1034.5" y1="700.8" y2="719.4" stroke="#3a3a3a" stroke-width="1.3"/>
<circle cx="1034.5" cy="662.1" r="2.8" fill="#333"/>
<rect x="1011.2" y="700.8" width="43.7" height="11.3" fill="#2b1be0" stroke="#1c1c1c" stroke-opacity="0.72" stroke-width="1"/>
<line x1="1011.2" x2="1054.9" y1="707.7" y2="707.7" stroke="#303030" stroke-width="2.2"/>
<circle cx="1056.3" cy="706.8" r="0.9" fill="#333"/>
<circle cx="1034.5" cy="701.9" r="4.75" fill="#fff" stroke="#1e1e1e" stroke-width="0.85"/>
<text x="1038.4" y="693.8" font-size="22">b</text>
<rect x="813.0" y="610.9" width="258.5" height="304.5" fill="none" stroke="#2c2c2c" stroke-width="1.65"/>
<line x1="812.3" x2="1072.2" y1="610.9" y2="610.9" stroke="#2c2c2c" stroke-width="1.9"/>
<line x1="809.4" x2="813.0" y1="675.6" y2="675.6" stroke="#333333" stroke-width="1.3"/>
<text x="808.1" y="678.1" font-size="22.5" text-anchor="end">1.2</text>
<line x1="809.4" x2="813.0" y1="754.4" y2="754.4" stroke="#333333" stroke-width="1.3"/>
<text x="808.1" y="756.9" font-size="22.5" text-anchor="end">1.0</text>
<line x1="809.4" x2="813.0" y1="833.3" y2="833.3" stroke="#333333" stroke-width="1.3"/>
<text x="808.1" y="835.8" font-size="22.5" text-anchor="end">0.8</text>
<line x1="809.4" x2="813.0" y1="912.2" y2="912.2" stroke="#333333" stroke-width="1.3"/>
<text x="808.1" y="914.7" font-size="22.5" text-anchor="end">0.6</text>
<text transform="translate(752.1,874.0) rotate(-90)" font-size="25.2" xml:space="preserve">Total leaf biomass (g )</text>
<line x1="850.1" x2="850.1" y1="915.4" y2="919.8" stroke="#333333" stroke-width="1.3"/>
<text x="837.3" y="937.6" font-size="22.5">N0</text>
<line x1="911.5" x2="911.5" y1="915.4" y2="919.8" stroke="#333333" stroke-width="1.3"/>
<text x="893.5" y="937.6" font-size="22.5">NH<tspan dy="5.6" font-size="16">4</tspan><tspan dy="-5.6" font-size="16">&#8203;</tspan></text>
<line x1="973.0" x2="973.0" y1="915.4" y2="919.8" stroke="#333333" stroke-width="1.3"/>
<text x="943.6" y="937.6" font-size="22.5">NO<tspan dy="5.6" font-size="16">3</tspan><tspan dy="-5.6" font-size="16">&#8203;</tspan></text>
<line x1="1034.5" x2="1034.5" y1="915.4" y2="919.8" stroke="#333333" stroke-width="1.3"/>
<text x="995.7" y="937.6" font-size="22.5">NH<tspan dy="5.6" font-size="16">4</tspan><tspan dy="-5.6" font-size="16">&#8203;</tspan>NO<tspan dy="5.6" font-size="16">3</tspan><tspan dy="-5.6" font-size="16">&#8203;</tspan></text>
</g>
</svg>
</body></html>
